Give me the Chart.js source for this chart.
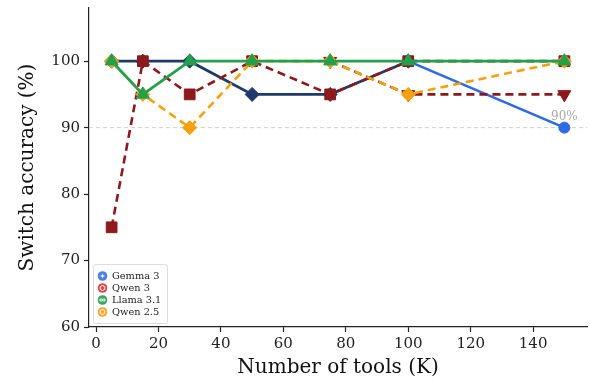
<!DOCTYPE html>
<html>
<head>
<meta charset="utf-8">
<script src="https://cdn.jsdelivr.net/npm/chart.js@4.4.1/dist/chart.umd.min.js"></script>
<style>
  html, body { margin: 0; padding: 0; background: #fff; }
  #wrap { width: 590px; height: 380px; }
</style>
</head>
<body>
<div id="wrap"><canvas id="chart"></canvas></div>
<script>
// Data
const toolCounts = [5, 15, 30, 50, 75, 100, 150];
const gemmaSmall = [100, 100, 100, 95, 95, 100, null];
const gemmaLarge = [null, null, null, null, null, 100, 90];
const qwen3Small = [75, 100, 95, 100, 95, 100, 100];
const qwen3Large = [null, null, null, null, 100, 95, 95];
const llama31 = [100, 95, 100, 100, 100, 100, 100];
const qwen25 = [100, 95, 90, 100, 100, 95, 100];

const xTicks = [0, 20, 40, 60, 80, 100, 120, 140];
const yTicks = [60, 70, 80, 90, 100];
const refLineValue = 90;
const refLabel = "90%";

const legendNames = ["Gemma 3", "Qwen 3", "Llama 3.1", "Qwen 2.5"];
const legendColors = ["#4a80e8", "#e0484d", "#38a860", "#f5a62c"];

const FONT = "'DejaVu Serif', serif";

function pts(values) {
    return toolCounts.map((x, i) => ({ x: x, y: values[i] }));
}

// dashed reference line at 90 and its label
const refLinePlugin = {
    id: "refLine",
    beforeDatasetsDraw(chart) {
        let ctx = chart.ctx;
        let area = chart.chartArea;
        let y = chart.scales.y.getPixelForValue(refLineValue);
        ctx.save();
        ctx.strokeStyle = "#cfcfcf";
        ctx.lineWidth = 1;
        ctx.setLineDash([4, 3]);
        ctx.beginPath();
        ctx.moveTo(area.left, y);
        ctx.lineTo(area.right, y);
        ctx.stroke();
        ctx.restore();
    },
    afterDatasetsDraw(chart) {
        let ctx = chart.ctx;
        let x = chart.scales.x.getPixelForValue(150);
        let y = chart.scales.y.getPixelForValue(refLineValue);
        ctx.save();
        ctx.fillStyle = "#a9a9a9";
        ctx.font = "12px " + FONT;
        ctx.textAlign = "center";
        ctx.textBaseline = "bottom";
        ctx.fillText(refLabel, x, y - 5);
        ctx.restore();
    }
};

// small logo-like icons for the legend
function drawIcon(ctx, kind, cx, cy, color) {
    ctx.save();
    ctx.fillStyle = color;
    ctx.beginPath();
    ctx.arc(cx, cy, 4.8, 0, Math.PI * 2);
    ctx.fill();
    ctx.strokeStyle = "#fff";
    ctx.fillStyle = "#fff";
    ctx.lineWidth = 1;
    if (kind === 0) {
        // four point sparkle
        ctx.beginPath();
        ctx.moveTo(cx, cy - 3);
        ctx.quadraticCurveTo(cx, cy, cx + 3, cy);
        ctx.quadraticCurveTo(cx, cy, cx, cy + 3);
        ctx.quadraticCurveTo(cx, cy, cx - 3, cy);
        ctx.quadraticCurveTo(cx, cy, cx, cy - 3);
        ctx.fill();
    } else if (kind === 2) {
        // infinity loop
        ctx.beginPath();
        ctx.ellipse(cx - 1.4, cy, 1.4, 1.1, 0, 0, Math.PI * 2);
        ctx.stroke();
        ctx.beginPath();
        ctx.ellipse(cx + 1.4, cy, 1.4, 1.1, 0, 0, Math.PI * 2);
        ctx.stroke();
    } else {
        // hexagon-ish mark
        ctx.beginPath();
        for (let k = 0; k < 6; k++) {
            let a = Math.PI / 6 + k * Math.PI / 3;
            let px = cx + Math.cos(a) * 2.6;
            let py = cy + Math.sin(a) * 2.6;
            if (k === 0) ctx.moveTo(px, py); else ctx.lineTo(px, py);
        }
        ctx.closePath();
        ctx.stroke();
    }
    ctx.restore();
}

const legendPlugin = {
    id: "insideLegend",
    afterDraw(chart) {
        let ctx = chart.ctx;
        let area = chart.chartArea;
        let bx = area.left + 4, by = area.bottom - 63, bw = 74, bh = 59;
        ctx.save();
        ctx.fillStyle = "rgba(255,255,255,0.9)";
        ctx.strokeStyle = "#dcdcdc";
        ctx.lineWidth = 1;
        ctx.beginPath();
        ctx.roundRect(bx + 0.5, by + 0.5, bw, bh, 2);
        ctx.fill();
        ctx.stroke();
        ctx.font = "9.8px " + FONT;
        ctx.textBaseline = "middle";
        legendNames.forEach((name, i) => {
            let cy = by + 12 + i * 12;
            drawIcon(ctx, i, bx + 9.5, cy, legendColors[i]);
            ctx.fillStyle = "#222";
            ctx.fillText(name, bx + 19, cy + 0.5);
        });
        ctx.restore();
    }
};

const navy = "#1f3a68";
const blue = "#2c6ae6";
const darkRed = "#8c1a1c";
const green = "#22a04b";
const orange = "#f5a10f";

const datasets = [
    {
        label: "Llama 3.1", data: pts(llama31),
        borderColor: green, backgroundColor: green, borderWidth: 2.8,
        pointStyle: "triangle", pointRadius: 7.5, pointBorderWidth: 1
    },
    {
        label: "Qwen 2.5", data: pts(qwen25),
        borderColor: orange, backgroundColor: orange, borderWidth: 2.6, borderDash: [8, 5],
        pointStyle: "rectRot", pointRadius: 7, pointBorderWidth: 1
    },
    {
        label: "Qwen 3 (b)", data: pts(qwen3Large),
        borderColor: darkRed, backgroundColor: darkRed, borderWidth: 2.6, borderDash: [8, 5],
        pointStyle: "triangle", rotation: 180, pointRadius: 7.5, pointBorderWidth: 1
    },
    {
        label: "Qwen 3", data: pts(qwen3Small),
        borderColor: darkRed, backgroundColor: darkRed, borderWidth: 2.6, borderDash: [8, 5],
        pointStyle: "rect", pointRadius: 7.6, pointBorderWidth: 1
    },
    {
        label: "Gemma 3 (b)", data: pts(gemmaLarge),
        borderColor: blue, backgroundColor: blue, borderWidth: 2.6,
        pointStyle: "circle", pointRadius: 5.5, pointBorderWidth: 1
    },
    {
        label: "Gemma 3", data: pts(gemmaSmall),
        borderColor: navy, backgroundColor: navy, borderWidth: 2.8,
        pointStyle: "rectRot", pointRadius: 7, pointBorderWidth: 1
    }
];

new Chart(document.getElementById("chart"), {
    type: "line",
    data: { datasets: datasets },
    options: {
        responsive: true,
        maintainAspectRatio: false,
        animation: false,
        spanGaps: false,
        layout: { autoPadding: false, padding: { left: 0, right: 3, top: 8, bottom: 0 } },
        plugins: {
            legend: { display: false },
            tooltip: { enabled: false }
        },
        scales: {
            x: {
                type: "linear",
                min: -2.25,
                max: 157.25,
                afterBuildTicks: s => { s.ticks = xTicks.map(v => ({ value: v })); },
                afterFit: s => { s.height = 53; s.paddingLeft = 0; s.paddingRight = 0; },
                grid: { display: true, drawOnChartArea: false, drawTicks: true, tickLength: 5, color: "#222", tickWidth: 1.2 },
                border: { display: true, color: "#222", width: 1.2 },
                ticks: { color: "#222", font: { family: FONT, size: 15 }, padding: 3, maxRotation: 0 },
                title: { display: true, text: "Number of tools (K)", color: "#111", font: { family: FONT, size: 20 }, padding: { top: 0, bottom: 0 } }
            },
            y: {
                min: 60,
                max: 108,
                afterBuildTicks: s => { s.ticks = yTicks.map(v => ({ value: v })); },
                afterFit: s => { s.width = 89; s.paddingTop = 0; s.paddingBottom = 0; },
                grid: { display: true, drawOnChartArea: false, drawTicks: true, tickLength: 5, color: "#222", tickWidth: 1.2 },
                border: { display: true, color: "#222", width: 1.2 },
                ticks: { color: "#222", font: { family: FONT, size: 15 }, padding: 4 },
                title: { display: true, text: "Switch accuracy (%)", color: "#111", font: { family: FONT, size: 20 }, padding: { top: 16, bottom: 0 } }
            }
        }
    },
    plugins: [refLinePlugin, legendPlugin]
});
</script>
</body>
</html>
